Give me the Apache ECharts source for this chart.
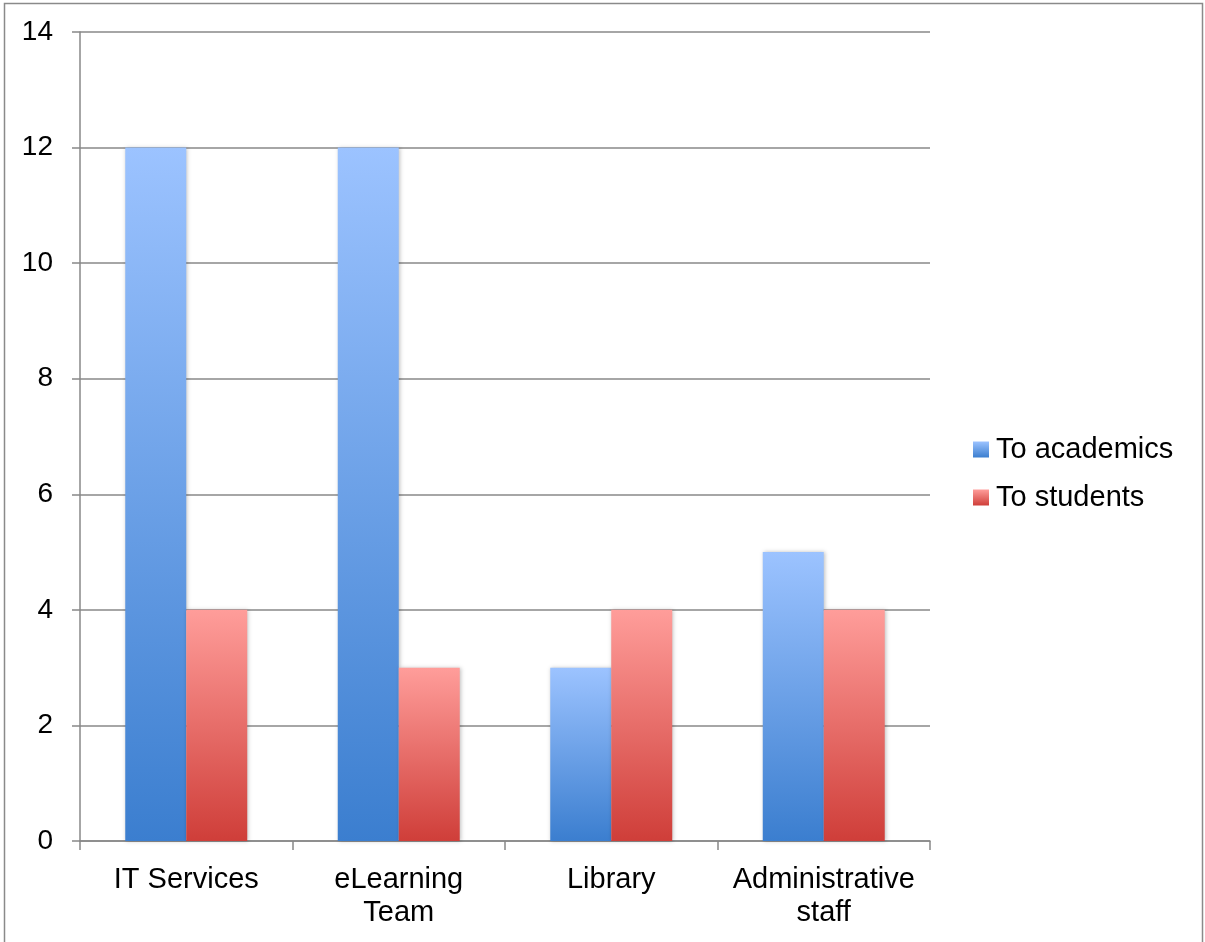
<!DOCTYPE html>
<html><head><meta charset="utf-8">
<script src="https://cdn.jsdelivr.net/npm/echarts@6/dist/echarts.min.js"></script>
<style>html,body{margin:0;padding:0;background:#fff}#c{width:1205px;height:942px}</style>
</head><body><div id="c"></div>
<script>
const categories = ['IT Services', 'eLearning\nTeam', 'Library', 'Administrative\nstaff'];
const toAcademics = [12, 12, 3, 5];
const toStudents = [4, 3, 4, 4];
const yTicks = { min: 0, max: 14, interval: 2 };

const blueGrad = new echarts.graphic.LinearGradient(0, 0, 0, 1, [
  { offset: 0, color: '#9CC3FF' }, { offset: 1, color: '#3B7ECF' }]);
const redGrad = new echarts.graphic.LinearGradient(0, 0, 0, 1, [
  { offset: 0, color: '#FF9D9A' }, { offset: 1, color: '#CF3E39' }]);

const chart = echarts.init(document.getElementById('c'));
const font = 'Liberation Sans, Arial, sans-serif';
chart.setOption({
  animation: false,
  graphic: [{ type: 'rect', shape: { x: 4.5, y: 3.5, width: 1198, height: 960 },
    style: { fill: 'none', stroke: '#8a8a8a', lineWidth: 1.5 }, silent: true }],
  grid: { left: 80, right: 275, top: 32, bottom: 101, containLabel: false },
  legend: {
    orient: 'vertical', left: 968, top: 430, itemWidth: 16, itemHeight: 16, itemGap: 19,
    icon: 'rect',
    textStyle: { fontFamily: font, fontSize: 29, color: '#000', padding: [0, 0, 0, 2] },
    data: ['To academics', 'To students']
  },
  xAxis: {
    type: 'category', data: categories,
    axisLine: { lineStyle: { color: '#888', width: 1.5 } },
    axisTick: { show: true, interval: 0, length: 9, lineStyle: { color: '#888', width: 1.5 } },
    axisLabel: { interval: 0, hideOverlap: false, fontFamily: font, fontSize: 29, color: '#000', margin: 22, lineHeight: 33 }
  },
  yAxis: {
    type: 'value', min: yTicks.min, max: yTicks.max, interval: yTicks.interval,
    axisLine: { show: true, lineStyle: { color: '#888', width: 1.5 } },
    axisTick: { show: true, length: 8, inside: false, lineStyle: { color: '#888', width: 1.5 } },
    splitLine: { lineStyle: { color: '#888', width: 1.5 } },
    axisLabel: { fontFamily: font, fontSize: 28, color: '#000', margin: 27 }
  },
  series: [
    { name: 'To academics', type: 'bar', data: toAcademics, barGap: '0%', barCategoryGap: '42.6%',
      itemStyle: { color: blueGrad, shadowBlur: 4, shadowColor: 'rgba(0,0,0,0.25)', shadowOffsetX: 1 } },
    { name: 'To students', type: 'bar', data: toStudents, barGap: '0%', barCategoryGap: '42.6%',
      itemStyle: { color: redGrad, shadowBlur: 4, shadowColor: 'rgba(0,0,0,0.25)', shadowOffsetX: 1 } }
  ]
});
</script></body></html>
